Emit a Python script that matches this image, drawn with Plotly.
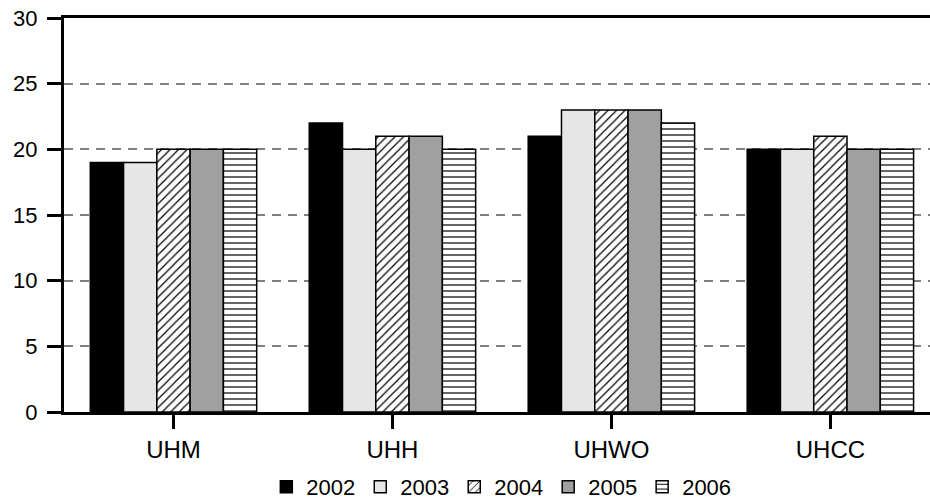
import plotly.graph_objects as go

categories = ["UHM", "UHH", "UHWO", "UHCC"]
years = ["2002", "2003", "2004", "2005", "2006"]
values_2002 = [19, 22, 21, 20]
values_2003 = [19, 20, 23, 20]
values_2004 = [20, 21, 23, 21]
values_2005 = [20, 21, 23, 20]
values_2006 = [20, 20, 22, 20]
y_ticks = [0, 5, 10, 15, 20, 25, 30]

series = [values_2002, values_2003, values_2004, values_2005, values_2006]
colors = ["#000000", "#e6e6e6", "#ffffff", "#a0a0a0", "#ffffff"]
patterns = ["", "", "/", "", "-"]

fig = go.Figure()
for name, vals, col, pat in zip(years, series, colors, patterns):
    marker = dict(color=col, line=dict(color="#000000", width=1.5))
    if pat:
        marker["pattern"] = dict(shape=pat, fgcolor="#000000", bgcolor="#ffffff",
                                 size=6, solidity=0.2, fillmode="replace")
    fig.add_trace(go.Bar(x=categories, y=vals, name=name, marker=marker))

fig.update_layout(
    width=930, height=500,
    margin=dict(l=64, r=0, t=18, b=88, autoexpand=False),
    paper_bgcolor="white", plot_bgcolor="white",
    barmode="group", bargap=0.24, bargroupgap=0,
    font=dict(family="Liberation Sans, Arial, sans-serif", color="#000000"),
    showlegend=True,
    legend=dict(orientation="h", x=0.505, xanchor="center", y=-0.19, yanchor="middle",
                font=dict(size=22), itemwidth=30, traceorder="normal"),
)
fig.update_xaxes(
    range=[-0.5, 3.455], showline=True, linecolor="#000000", linewidth=3, mirror=True,
    ticks="outside", ticklen=14, tickwidth=3, tickcolor="#000000",
    tickfont=dict(size=24), showgrid=False, automargin=False,
)
fig.update_yaxes(
    range=[0, 30], tickvals=y_ticks, showline=True, linecolor="#000000", linewidth=3,
    ticks="outside", ticklen=14, tickwidth=3, tickcolor="#000000",
    tickfont=dict(size=22), showgrid=True, gridcolor="#808080", gridwidth=1.5,
    griddash="9px,7px", zeroline=False, automargin=False, ticklabelstandoff=5,
)
fig.write_html("out.html", config={"displayModeBar": False},
               post_script="document.body.style.margin='0px';")
